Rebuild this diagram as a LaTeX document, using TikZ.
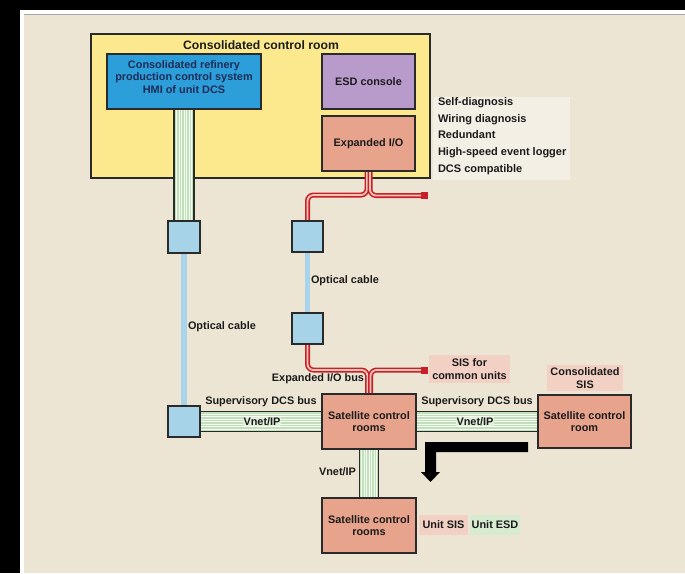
\documentclass[tikz,border=0pt]{standalone}
\usepackage{fontspec}
\setmainfont{Liberation Sans}
\usetikzlibrary{calc}
\definecolor{bgbeige}{HTML}{EDE5D3}
\definecolor{roomyellow}{HTML}{FCE98E}
\definecolor{hmiblue}{HTML}{2C9FDA}
\definecolor{esdpurple}{HTML}{B99BCB}
\definecolor{salmon}{HTML}{E8A38C}
\definecolor{sqblue}{HTML}{A7D3E9}
\definecolor{opticblue}{HTML}{A9D3EA}
\definecolor{pinklab}{HTML}{F2D0C3}
\definecolor{greenlab}{HTML}{D6EBD0}
\definecolor{infofill}{HTML}{F4EFE4}
\definecolor{edge}{HTML}{2A2A2A}
\definecolor{txtdark}{HTML}{1B1B1B}
\definecolor{navy}{HTML}{1E2B55}
\definecolor{cablered}{HTML}{C8202A}
\definecolor{cablepink}{HTML}{F3C4B4}
\definecolor{stripebg}{HTML}{BFE0B8}
\definecolor{stripelight}{HTML}{F6FAF2}
\definecolor{vnetbg}{HTML}{E2F0DC}
\pgfdeclarelayer{back}
\pgfdeclarelayer{cables}
\pgfsetlayers{back,cables,main}
\begin{document}
\begin{tikzpicture}[x=1pt,y=-1pt,
  every node/.style={font=\fontsize{10.9}{12.7}\selectfont\bfseries, text=txtdark, inner sep=0pt, outer sep=0pt},
  box/.style={draw=edge, line width=1.2pt, anchor=north west},
  sqbox/.style={box, fill=sqblue},
  redcable/.style={draw=cablered, line width=1.6pt, double=cablepink, double distance=1.8pt, rounded corners=6pt},
  optic/.style={draw=opticblue, line width=6pt},
  redend/.style={fill=cablered, minimum width=7pt, minimum height=7pt},
  lab/.style={align=center},
  pinkbox/.style={fill=pinklab, align=center},
  greenbox/.style={fill=greenlab, align=center},
  stripe/.style={draw=stripelight, line width=1pt},
  busedge/.style={draw=edge, line width=1.2pt}
]
\useasboundingbox (0,0) rectangle (685,573);
\begin{pgfonlayer}{back}
% background panel
\fill[black] (0,0) rectangle (685,573);
\fill[white] (20,9.5) rectangle (685,573);
\fill[bgbeige] (23.5,13.5) rectangle (685,573);
\draw[gray!70, line width=0.8pt] (23.5,14) -- (685,14);
% consolidated control room
\node[box, fill=roomyellow, minimum width=339pt, minimum height=144pt] (room) at (91,34) {};
\end{pgfonlayer}
\node[font=\fontsize{12.2}{14}\selectfont\bfseries] (roomtitle) at (261,45) {Consolidated control room};

\node[box, fill=hmiblue, minimum width=154pt, minimum height=55pt] (hmi) at (107,54) {};
\node[lab, text=navy] (hmitxt) at ($(hmi.center)+(0,-4.5)$) {Consolidated refinery\\production control system\\HMI of unit DCS};
\node[box, fill=esdpurple, minimum width=93pt, minimum height=55pt] (esd) at (322,54) {ESD console};
\node[box, fill=salmon, minimum width=93pt, minimum height=55pt] (exio) at (322,116) {Expanded I/O};

% info list
\node[fill=infofill, anchor=north west, minimum width=137pt, minimum height=83pt] (info) at (433,97) {};
\node[anchor=north west, align=left, font=\fontsize{11}{16.7}\selectfont\bfseries] (infotxt) at (438,97.5)
  {Self-diagnosis\\Wiring diagnosis\\Redundant\\High-speed event logger\\DCS compatible};

% converter squares
\node[sqbox, minimum width=32pt, minimum height=32pt] (sq1) at (168,221) {};
\node[sqbox, minimum width=31pt, minimum height=31pt] (sq2) at (292,221) {};
\node[sqbox, minimum width=31pt, minimum height=31pt] (sq3) at (292,313) {};
\node[sqbox, minimum width=32pt, minimum height=31pt] (sq4) at (168,406) {};

% satellite rooms
\node[box, fill=salmon, minimum width=94pt, minimum height=55pt, align=center] (sat) at (322,394) {Satellite control\\rooms};
\node[box, fill=salmon, minimum width=93pt, minimum height=53pt, align=center] (satR) at (538,395) {Satellite control\\room};
\node[box, fill=salmon, minimum width=94pt, minimum height=55pt, align=center] (satB) at (322,498) {Satellite control\\rooms};

% red ends
\node[redend] (end1) at (424.5,195.5) {};
\node[redend] (end2) at (424.5,370) {};

% cables
\begin{pgfonlayer}{cables}
% vertical striped cable HMI -> sq1
\fill[stripebg] ($(hmi.south)+(-10,0)$) rectangle ($(sq1.north)+(10,0)$);
\foreach \o in {-7.5,-5,...,7.6} \draw[stripe] ($(hmi.south)+(\o,0)$) -- ($(sq1.north)+(\o,0)$);
\draw[busedge] ($(hmi.south)+(-10,0)$) -- ($(sq1.north)+(-10,0)$);
\draw[busedge] ($(hmi.south)+(10,0)$) -- ($(sq1.north)+(10,0)$);
% vertical striped cable sat -> satB
\fill[stripebg] ($(sat.south)+(-9.5,0)$) rectangle ($(satB.north)+(9.5,0)$);
\foreach \o in {-7.5,-5,...,7.6} \draw[stripe] ($(sat.south)+(\o,0)$) -- ($(satB.north)+(\o,0)$);
\draw[busedge] ($(sat.south)+(-9.5,0)$) -- ($(satB.north)+(-9.5,0)$);
\draw[busedge] ($(sat.south)+(9.5,0)$) -- ($(satB.north)+(9.5,0)$);
% horizontal bus sq4 -> sat
\fill[stripebg] ($(sq4.east)+(0,-10)$) rectangle ($(sat.west)+(0,10)$);
\foreach \o in {-7.5,-5,...,7.6} \draw[stripe] ($(sq4.east)+(0,\o)$) -- ($(sat.west)+(0,\o)$);
\draw[busedge] ($(sq4.east)+(0,-10)$) -- ($(sat.west)+(0,-10)$);
\draw[busedge] ($(sq4.east)+(0,10)$) -- ($(sat.west)+(0,10)$);
% horizontal bus sat -> satR
\fill[stripebg] ($(sat.east)+(0,-10)$) rectangle ($(satR.west)+(0,10)$);
\foreach \o in {-7.5,-5,...,7.6} \draw[stripe] ($(sat.east)+(0,\o)$) -- ($(satR.west)+(0,\o)$);
\draw[busedge] ($(sat.east)+(0,-10)$) -- ($(satR.west)+(0,-10)$);
\draw[busedge] ($(sat.east)+(0,10)$) -- ($(satR.west)+(0,10)$);
% optical cables
\draw[optic] (sq1.south) -- (sq4.north);
\draw[optic, line width=5pt] (sq2.south) -- (sq3.north);
% red cables
\draw[redcable] ([xshift=-1.5pt]exio.south) |- ([yshift=26pt]sq2.north) -- (sq2.north);
\draw[redcable] ([xshift=1.5pt]exio.south) |- (end1.west);
\draw[redcable] (sq3.south) |- ($(sat.north |- end2.west)+(-1.5,0)$) -- ([xshift=-1.5pt]sat.north);
\draw[redcable] (end2.west) -| ([xshift=1.5pt]sat.north);
\end{pgfonlayer}

% labels
\node[anchor=west] (optL) at (188,327) {Optical cable};
\node[anchor=west] (optM) at (311,281) {Optical cable};
\node[anchor=east] (exbus) at (364,379) {Expanded I/O bus};
\node (supL) at (261,402) {Supervisory DCS bus};
\node (supR) at (477,402) {Supervisory DCS bus};
\node[fill=vnetbg, inner xsep=1pt, inner ysep=0.5pt] (vnL) at (262,421.5) {Vnet/IP};
\node[fill=vnetbg, inner xsep=1pt, inner ysep=0.5pt] (vnR) at (475,421.5) {Vnet/IP};
\node[anchor=east] (vnB) at (356,472) {Vnet/IP};
\node[pinkbox, minimum width=81pt, minimum height=28pt] (sisc) at (469.5,369) {SIS for\\common units};
\node[pinkbox, minimum width=76pt, minimum height=26pt] (csis) at (585,378) {Consolidated\\SIS};
\node[pinkbox, minimum width=49pt, minimum height=20pt] (usis) at (443.5,525) {Unit SIS};
\node[greenbox, minimum width=50pt, minimum height=20pt] (uesd) at (495,525) {Unit ESD};

% big black arrow
\fill[black] (528,442) -- (425,442) -- (425,472) -- (421,472) -- (430.5,482) -- (440,472) -- (436,472) -- (436,452) -- (528,452) -- cycle;
\end{tikzpicture}
\end{document}
